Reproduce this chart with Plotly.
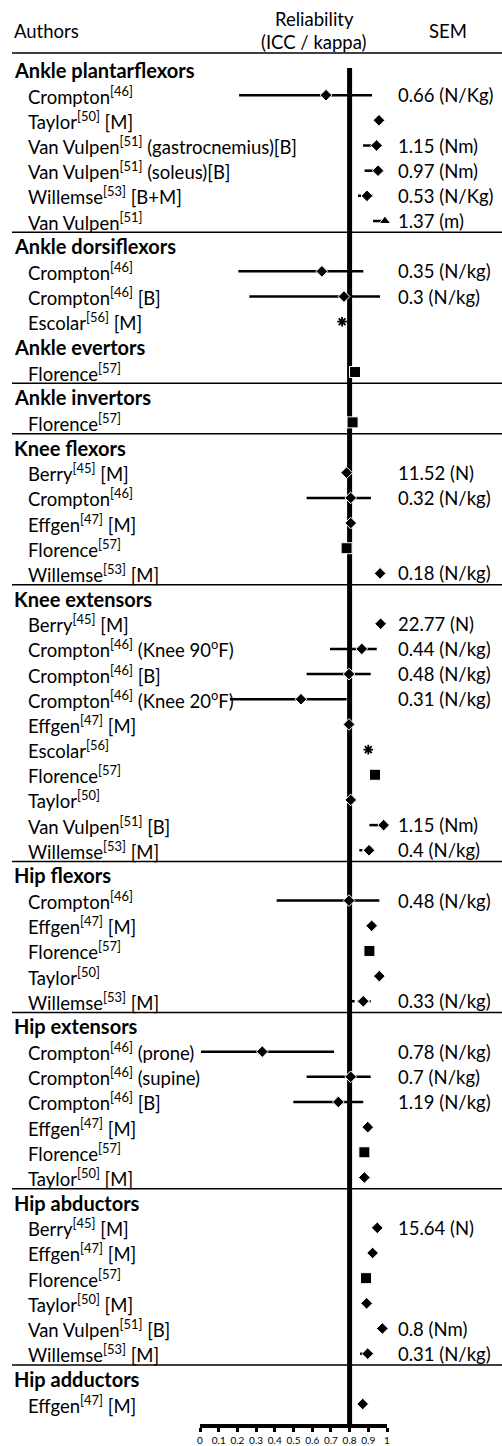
import plotly.graph_objects as go

# ---------------- data ----------------
groups = ["Ankle plantarflexors", "Ankle dorsiflexors", "Ankle evertors", "Ankle invertors",
          "Knee flexors", "Knee extensors", "Hip flexors", "Hip extensors",
          "Hip abductors", "Hip adductors"]
groups_without_rule = ["Ankle dorsiflexors", "Hip adductors"]

entry_group = [0, 0, 0, 0, 0, 0,
               1, 1, 1,
               2,
               3,
               4, 4, 4, 4, 4,
               5, 5, 5, 5, 5, 5, 5, 5, 5, 5,
               6, 6, 6, 6, 6,
               7, 7, 7, 7, 7, 7,
               8, 8, 8, 8, 8, 8,
               9]

labels = [
    "Crompton<sup>[46]</sup>", "Taylor<sup>[50]</sup> [M]",
    "Van Vulpen<sup>[51]</sup> (gastrocnemius)[B]", "Van Vulpen<sup>[51]</sup> (soleus)[B]",
    "Willemse<sup>[53]</sup> [B+M]", "Van Vulpen<sup>[51]</sup>",
    "Crompton<sup>[46]</sup>", "Crompton<sup>[46]</sup> [B]", "Escolar<sup>[56]</sup> [M]",
    "Florence<sup>[57]</sup>",
    "Florence<sup>[57]</sup>",
    "Berry<sup>[45]</sup> [M]", "Crompton<sup>[46]</sup>", "Effgen<sup>[47]</sup> [M]",
    "Florence<sup>[57]</sup>", "Willemse<sup>[53]</sup> [M]",
    "Berry<sup>[45]</sup> [M]", "Crompton<sup>[46]</sup> (Knee 90<sup>o</sup>F)",
    "Crompton<sup>[46]</sup> [B]", "Crompton<sup>[46]</sup> (Knee 20<sup>o</sup>F)",
    "Effgen<sup>[47]</sup> [M]", "Escolar<sup>[56]</sup>", "Florence<sup>[57]</sup>",
    "Taylor<sup>[50]</sup>", "Van Vulpen<sup>[51]</sup> [B]", "Willemse<sup>[53]</sup> [M]",
    "Crompton<sup>[46]</sup>", "Effgen<sup>[47]</sup> [M]", "Florence<sup>[57]</sup>",
    "Taylor<sup>[50]</sup>", "Willemse<sup>[53]</sup> [M]",
    "Crompton<sup>[46]</sup> (prone)", "Crompton<sup>[46]</sup> (supine)",
    "Crompton<sup>[46]</sup> [B]", "Effgen<sup>[47]</sup> [M]", "Florence<sup>[57]</sup>",
    "Taylor<sup>[50]</sup> [M]",
    "Berry<sup>[45]</sup> [M]", "Effgen<sup>[47]</sup> [M]", "Florence<sup>[57]</sup>",
    "Taylor<sup>[50]</sup> [M]", "Van Vulpen<sup>[51]</sup> [B]", "Willemse<sup>[53]</sup> [M]",
    "Effgen<sup>[47]</sup> [M]",
]

reliability = [0.674, 0.957, 0.944, 0.952, 0.893, 0.989,
               0.652, 0.770, 0.760,
               0.829,
               0.816,
               0.784, 0.806, 0.806, 0.784, 0.963,
               0.966, 0.865, 0.797, 0.540, 0.797, 0.900, 0.936, 0.806, 0.982, 0.904,
               0.797, 0.918, 0.906, 0.959, 0.873,
               0.333, 0.806, 0.740, 0.897, 0.879, 0.879,
               0.948, 0.923, 0.888, 0.891, 0.975, 0.897,
               0.870]

ci_low = [0.209, None, 0.872, 0.880, 0.845, 0.925,
          0.205, 0.264, None,
          None,
          None,
          None, 0.570, None, None, None,
          None, 0.695, 0.570, 0.160, None, None, None, None, 0.906, 0.852,
          0.410, None, None, None, 0.811,
          0.005, 0.570, 0.499, None, None, None,
          None, None, None, None, None, 0.856,
          None]

ci_high = [0.920, None, 0.955, 0.960, 0.925, 0.995,
           0.873, 0.963, None,
           None,
           None,
           None, 0.914, None, None, None,
           None, 0.945, 0.913, 0.784, None, None, None, None, 0.990, 0.915,
           0.959, None, None, None, 0.913,
           0.717, 0.913, 0.873, None, None, None,
           None, None, None, None, None, 0.910,
           None]

ci_dotted = [False, False, False, False, True, False,
             False, False, False,
             False,
             False,
             False, False, False, False, False,
             False, False, False, False, False, False, False, False, False, True,
             False, False, False, False, True,
             False, False, False, False, False, False,
             False, False, False, False, False, True,
             False]

sem = ["0.66 (N/Kg)", "", "1.15 (Nm)", "0.97 (Nm)", "0.53 (N/Kg)", "1.37 (m)",
       "0.35 (N/kg)", "0.3 (N/kg)", "",
       "",
       "",
       "11.52 (N)", "0.32 (N/kg)", "", "", "0.18 (N/kg)",
       "22.77 (N)", "0.44 (N/kg)", "0.48 (N/kg)", "0.31 (N/kg)", "", "", "", "", "1.15 (Nm)", "0.4 (N/kg)",
       "0.48 (N/kg)", "", "", "", "0.33 (N/kg)",
       "0.78 (N/kg)", "0.7 (N/kg)", "1.19 (N/kg)", "", "", "",
       "15.64 (N)", "", "", "", "0.8 (Nm)", "0.31 (N/kg)",
       ""]

marker_kind = ["diamond", "diamond", "diamond", "diamond", "diamond", "triangle",
               "diamond", "diamond", "star",
               "square",
               "square",
               "diamond", "diamond", "diamond", "square", "diamond",
               "diamond", "diamond", "diamond", "diamond", "diamond", "star", "square", "diamond", "diamond", "diamond",
               "diamond", "diamond", "square", "diamond", "diamond",
               "diamond", "diamond", "diamond", "diamond", "square", "diamond",
               "diamond", "diamond", "square", "diamond", "diamond", "diamond",
               "diamond"]

reference_value = 0.8
tick_values = [0, 0.1, 0.2, 0.3, 0.4, 0.5, 0.6, 0.7, 0.8, 0.9, 1]
tick_labels = ["0", "0.1", "0.2", "0.3", "0.4", "0.5", "0.6", "0.7", "0.8", "0.9", "1"]

# ---------------- layout constants ----------------
W, H = 502, 1446
X0_PX, X1_PX = 200, 387          # pixel span of the 0..1 axis
ROW0_PX, ROW_H = 70, 25.17       # first row centre & row pitch
AXIS_PX = 1424                   # y pixel of the x axis
FONT = "Lato"
FS = 18.5
FS_BOLD = 20


def row_of_px(px):
    return (px - ROW0_PX) / ROW_H


# row indices
header_rows = []
entry_rows = [0] * len(labels)
r = 0
for g in range(len(groups)):
    header_rows.append(r)
    r += 1
    for k, eg in enumerate(entry_group):
        if eg == g:
            entry_rows[k] = r
            r += 1

fig = go.Figure()

# confidence intervals
for dotted in (False, True):
    xs, ys = [], []
    for k in range(len(labels)):
        if ci_low[k] is not None and ci_dotted[k] == dotted:
            xs += [ci_low[k], ci_high[k], None]
            ys += [entry_rows[k], entry_rows[k], None]
    fig.add_trace(go.Scatter(x=xs, y=ys, mode="lines",
                             line=dict(color="black", width=2.5, dash="dot" if dotted else "solid"),
                             hoverinfo="skip", showlegend=False, cliponaxis=False))

symbol_map = {
    "diamond": dict(symbol="diamond", size=9, color="black", line=dict(color="white", width=1)),
    "square": dict(symbol="square", size=11, color="black", line=dict(color="white", width=1)),
    "triangle": dict(symbol="triangle-up", size=10, color="black", line=dict(color="white", width=1)),
    "star": dict(symbol="asterisk-open", size=8, color="black", line=dict(color="black", width=1.8)),
}
for kind, mk in symbol_map.items():
    idx = [k for k in range(len(labels)) if marker_kind[k] == kind]
    fig.add_trace(go.Scatter(
        x=[reliability[k] for k in idx], y=[entry_rows[k] for k in idx],
        mode="markers", marker=mk, showlegend=False, cliponaxis=False,
        hovertext=[labels[k] for k in idx]))

shapes = []
# reference line at 0.8
y_bottom = row_of_px(AXIS_PX)
shapes.append(dict(type="line", xref="x", yref="y", x0=reference_value, x1=reference_value,
                   y0=row_of_px(68), y1=y_bottom, line=dict(color="black", width=5), layer="below"))
# header rule
shapes.append(dict(type="line", xref="paper", yref="y", x0=12 / W, x1=1,
                   y0=row_of_px(53), y1=row_of_px(53), line=dict(color="black", width=1.5)))
# group rules
for g, name in enumerate(groups):
    if name in groups_without_rule:
        continue
    last = max(entry_rows[k] for k in range(len(labels)) if entry_group[k] == g)
    yy = last + 0.45
    shapes.append(dict(type="line", xref="paper", yref="y", x0=12 / W, x1=1,
                       y0=yy, y1=yy, line=dict(color="black", width=1.5)))

annotations = []
font = dict(family=FONT, size=FS, color="black")
bfont = dict(family=FONT, size=FS_BOLD, color="black")
# column headers
annotations.append(dict(text="Authors", x=12 / W, y=row_of_px(31), xref="paper", yref="y",
                        xanchor="left", yanchor="middle", showarrow=False, font=font))
annotations.append(dict(text="Reliability", x=314 / W, y=row_of_px(19), xref="paper", yref="y",
                        xanchor="center", yanchor="middle", showarrow=False, font=font))
annotations.append(dict(text="(ICC / kappa)", x=314 / W, y=row_of_px(42), xref="paper", yref="y",
                        xanchor="center", yanchor="middle", showarrow=False, font=font))
annotations.append(dict(text="SEM", x=448 / W, y=row_of_px(31), xref="paper", yref="y",
                        xanchor="center", yanchor="middle", showarrow=False, font=font))
for g, name in enumerate(groups):
    annotations.append(dict(text="<b>" + name + "</b>", x=12 / W, y=header_rows[g],
                            xref="paper", yref="y", xanchor="left", yanchor="middle",
                            showarrow=False, font=bfont))
for k, lab in enumerate(labels):
    annotations.append(dict(text=lab, x=26 / W, y=entry_rows[k], xref="paper", yref="y",
                            xanchor="left", yanchor="middle", showarrow=False, font=font))
    if sem[k]:
        annotations.append(dict(text=sem[k], x=396 / W, y=entry_rows[k], xref="paper", yref="y",
                                xanchor="left", yanchor="middle", showarrow=False, font=font))

fig.update_layout(
    width=W, height=H, margin=dict(l=0, r=0, t=0, b=0),
    paper_bgcolor="white", plot_bgcolor="white",
    font=dict(family=FONT, size=FS, color="black"),
    shapes=shapes, annotations=annotations, showlegend=False,
    xaxis=dict(domain=[X0_PX / W, X1_PX / W], range=[0, 1], showgrid=False, zeroline=False,
               showline=True, linecolor="black", linewidth=4,
               ticks="outside", ticklen=4, tickwidth=3, tickcolor="black",
               tickvals=tick_values, ticktext=tick_labels,
               tickfont=dict(family=FONT, size=10, color="black"),
               automargin=False, fixedrange=True),
    yaxis=dict(domain=[(H - AXIS_PX) / H, 1], range=[row_of_px(AXIS_PX), row_of_px(0)],
               visible=False, automargin=False, fixedrange=True),
)

fig.write_html("out.html", config={"displayModeBar": False},
               post_script="document.body.style.margin='0px';document.body.style.overflow='hidden';")
